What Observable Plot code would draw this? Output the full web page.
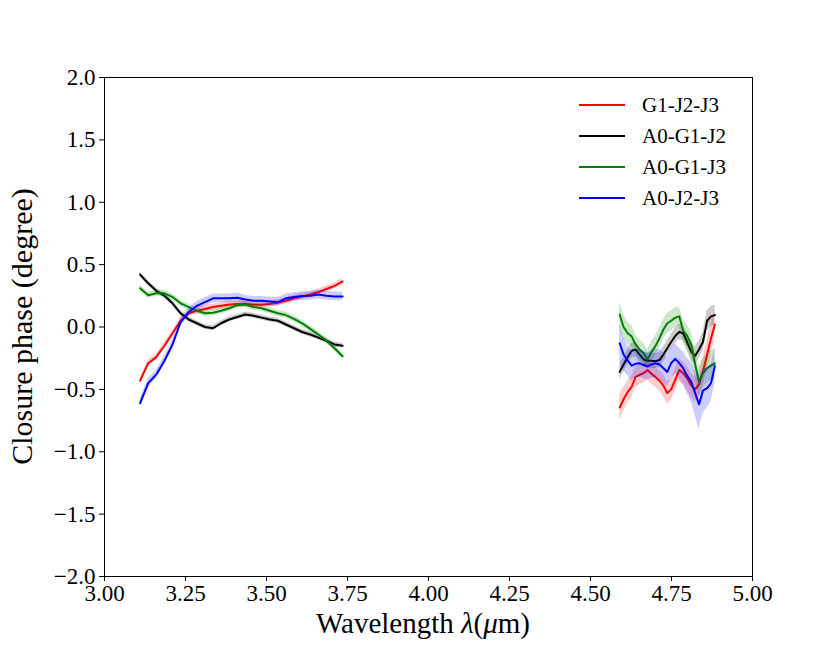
<!DOCTYPE html>
<html><head><meta charset="utf-8">
<script src="https://cdn.jsdelivr.net/npm/d3@7"></script>
<script src="https://cdn.jsdelivr.net/npm/@observablehq/plot@0.6"></script>
<style>body{margin:0;background:#fff;} #chart svg{display:block;}</style>
</head><body><div id="chart"></div>
<script>
const seriesNames = ["G1-J2-J3", "A0-G1-J2", "A0-G1-J3", "A0-J2-J3"];
const seriesColors = ["#ff0000", "#000000", "#008000", "#0000ff"];
const xTicks = [3.00, 3.25, 3.50, 3.75, 4.00, 4.25, 4.50, 4.75, 5.00];
const yTicks = [-2.0, -1.5, -1.0, -0.5, 0.0, 0.5, 1.0, 1.5, 2.0];
const xLabel = "Wavelength";
const yLabel = "Closure phase (degree)";

const wlLeft = [3.110,3.135,3.160,3.185,3.210,3.235,3.260,3.285,3.310,3.335,3.360,3.385,3.410,3.435,3.460,3.485,3.510,3.535,3.560,3.585,3.610,3.635,3.660,3.685,3.710,3.735];
const redLeft = [-0.43,-0.29,-0.24,-0.15,-0.05,0.05,0.11,0.13,0.145,0.16,0.17,0.18,0.185,0.185,0.178,0.178,0.185,0.195,0.21,0.23,0.245,0.26,0.28,0.305,0.33,0.365];
const blackLeft = [0.42,0.35,0.29,0.25,0.19,0.11,0.06,0.03,0.00,-0.01,0.03,0.06,0.08,0.10,0.09,0.075,0.06,0.05,0.02,-0.01,-0.04,-0.06,-0.085,-0.11,-0.14,-0.15];
const greenLeft = [0.31,0.255,0.27,0.27,0.24,0.19,0.16,0.13,0.11,0.115,0.13,0.15,0.175,0.18,0.16,0.15,0.13,0.11,0.095,0.065,0.03,-0.015,-0.06,-0.11,-0.17,-0.235];
const blueLeft = [-0.61,-0.45,-0.38,-0.27,-0.14,0.04,0.12,0.17,0.20,0.23,0.23,0.23,0.235,0.22,0.21,0.21,0.205,0.20,0.23,0.24,0.248,0.25,0.26,0.25,0.245,0.245];
const redErrLeft = [0.025,0.025,0.025,0.025,0.025,0.025,0.025,0.025,0.025,0.025,0.025,0.025,0.025,0.025,0.025,0.025,0.025,0.025,0.025,0.025,0.025,0.025,0.025,0.025,0.025,0.025];
const blackErrLeft = [0.02,0.02,0.02,0.02,0.02,0.02,0.02,0.02,0.02,0.02,0.02,0.02,0.02,0.02,0.02,0.02,0.02,0.02,0.02,0.02,0.02,0.02,0.02,0.02,0.02,0.02];
const greenErrLeft = [0.025,0.025,0.025,0.025,0.025,0.025,0.025,0.025,0.025,0.025,0.025,0.025,0.025,0.025,0.025,0.025,0.025,0.025,0.025,0.025,0.025,0.025,0.025,0.025,0.025,0.025];
const blueErrLeft = [0.035,0.035,0.035,0.035,0.035,0.035,0.035,0.035,0.035,0.035,0.035,0.035,0.035,0.035,0.035,0.035,0.035,0.035,0.035,0.035,0.035,0.035,0.035,0.035,0.035,0.035];

const wlRight = [4.590,4.602,4.615,4.627,4.639,4.651,4.664,4.676,4.688,4.700,4.713,4.725,4.737,4.749,4.762,4.774,4.786,4.798,4.811,4.823,4.835,4.847,4.860,4.872,4.884];
const redRight = [-0.645,-0.58,-0.52,-0.48,-0.40,-0.385,-0.37,-0.345,-0.375,-0.40,-0.43,-0.47,-0.53,-0.50,-0.42,-0.345,-0.37,-0.41,-0.47,-0.50,-0.46,-0.36,-0.22,-0.09,0.02];
const blackRight = [-0.36,-0.30,-0.24,-0.19,-0.18,-0.22,-0.26,-0.27,-0.27,-0.275,-0.265,-0.22,-0.17,-0.12,-0.07,-0.04,-0.05,-0.12,-0.20,-0.23,-0.18,-0.12,0.05,0.085,0.095];
const greenRight = [0.10,0.00,-0.05,-0.075,-0.14,-0.18,-0.21,-0.26,-0.20,-0.155,-0.09,-0.02,0.03,0.05,0.075,0.085,-0.03,-0.07,-0.14,-0.30,-0.44,-0.37,-0.33,-0.31,-0.29];
const blueRight = [-0.13,-0.22,-0.27,-0.31,-0.295,-0.29,-0.305,-0.315,-0.30,-0.29,-0.30,-0.33,-0.36,-0.29,-0.255,-0.29,-0.33,-0.39,-0.44,-0.53,-0.62,-0.51,-0.49,-0.45,-0.31];
const redErrRight = [0.10,0.10,0.09,0.09,0.08,0.08,0.08,0.08,0.08,0.08,0.08,0.09,0.09,0.09,0.09,0.09,0.09,0.10,0.10,0.10,0.10,0.11,0.12,0.12,0.12];
const blackErrRight = [0.06,0.06,0.06,0.06,0.06,0.06,0.06,0.06,0.06,0.06,0.06,0.06,0.06,0.06,0.06,0.06,0.06,0.07,0.07,0.07,0.07,0.08,0.08,0.08,0.08];
const greenErrRight = [0.10,0.10,0.09,0.09,0.08,0.08,0.08,0.08,0.08,0.08,0.08,0.08,0.08,0.08,0.08,0.08,0.09,0.09,0.10,0.10,0.12,0.12,0.12,0.12,0.12];
const blueErrRight = [0.15,0.13,0.12,0.12,0.11,0.11,0.11,0.11,0.11,0.11,0.12,0.12,0.12,0.12,0.12,0.12,0.13,0.14,0.16,0.18,0.20,0.18,0.16,0.15,0.14];

const leftVals = [redLeft, blackLeft, greenLeft, blueLeft];
const leftErrs = [redErrLeft, blackErrLeft, greenErrLeft, blueErrLeft];
const rightVals = [redRight, blackRight, greenRight, blueRight];
const rightErrs = [redErrRight, blackErrRight, greenErrRight, blueErrRight];

const rows = [];
seriesNames.forEach((s, i) => {
  wlLeft.forEach((w, j) => rows.push({series: s, key: s + "-L", wl: w, cp: leftVals[i][j], err: leftErrs[i][j]}));
  wlRight.forEach((w, j) => rows.push({series: s, key: s + "-R", wl: w, cp: rightVals[i][j], err: rightErrs[i][j]}));
});

const font = "'Liberation Serif', 'DejaVu Serif', serif";
const W = 830, H = 646, mL = 104, mR = 78, mT = 77, mB = 70;

const marks = [];
seriesNames.forEach(s => {
  const d = rows.filter(r => r.series === s);
  marks.push(Plot.areaY(d, {x: "wl", y1: r => r.cp - r.err, y2: r => r.cp + r.err, z: "key", fill: "series", fillOpacity: 0.2}));
  marks.push(Plot.line(d, {x: "wl", y: "cp", z: "key", stroke: "series", strokeWidth: 2}));
});

const plot = Plot.plot({
  width: W, height: H,
  marginLeft: mL, marginRight: mR, marginTop: mT, marginBottom: mB,
  style: {fontFamily: font, fontSize: "23px", color: "#000", background: "#fff"},
  x: {domain: [3, 5]},
  y: {domain: [-2, 2]},
  color: {domain: seriesNames, range: seriesColors},
  marks: [
    ...marks,
    Plot.frame({stroke: "#000", strokeWidth: 1}),
    Plot.axisX({ticks: xTicks, tickFormat: d => d.toFixed(2), tickSize: 5, tickPadding: 3, label: null, stroke: "#000"}),
    Plot.axisY({ticks: yTicks, tickFormat: d => (d < 0 ? "\u2212" : "") + Math.abs(d).toFixed(1), tickSize: 5, tickPadding: 4, label: null, stroke: "#000"})
  ]
});

document.getElementById("chart").appendChild(plot);

const svg = d3.select(plot);
// axis labels
const xl = svg.append("text")
  .attr("x", (mL + W - mR) / 2 - 5).attr("y", 633)
  .attr("text-anchor", "middle")
  .style("font-family", font).style("font-size", "29px").attr("fill", "#000");
xl.append("tspan").text(xLabel + " ");
xl.append("tspan").attr("font-style", "italic").text("\u03bb");
xl.append("tspan").text("(");
xl.append("tspan").attr("font-style", "italic").text("\u03bc");
xl.append("tspan").text("m)");

svg.append("text")
  .attr("transform", `translate(32,${(mT + H - mB) / 2}) rotate(-90)`)
  .attr("text-anchor", "middle")
  .style("font-family", font).style("font-size", "30px").attr("fill", "#000")
  .text(yLabel);

// legend
const leg = svg.append("g");
const legY = [105, 136, 167, 198];
seriesNames.forEach((s, i) => {
  leg.append("line").attr("x1", 579).attr("x2", 625).attr("y1", legY[i]).attr("y2", legY[i])
    .attr("stroke", seriesColors[i]).attr("stroke-width", 2);
  leg.append("text").attr("x", 642).attr("y", legY[i] + 7)
    .attr("text-anchor", "start")
    .style("font-family", font).style("font-size", "21px").attr("fill", "#000").text(s);
});
</script>
</body></html>
